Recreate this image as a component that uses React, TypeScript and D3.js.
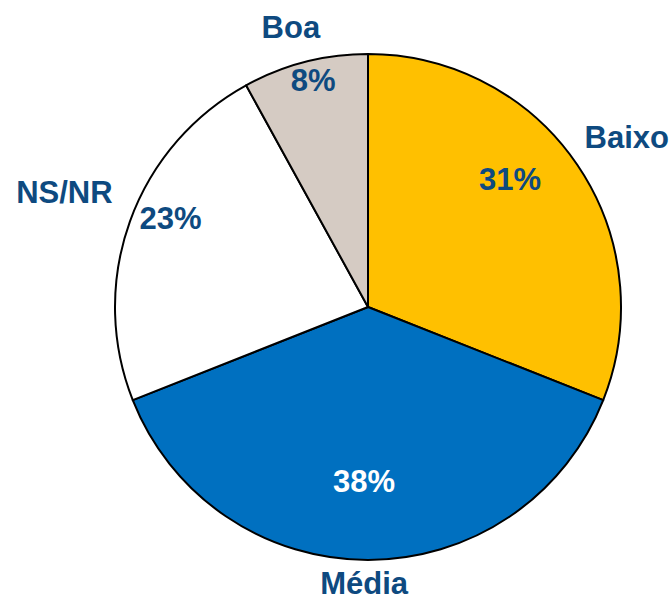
import React, { useEffect, useRef } from 'react';
import * as d3 from 'd3';

// chart data
const categories = ['Baixo', 'Média', 'NS/NR', 'Boa'];
const values = [31, 38, 23, 8];
const sliceColors = ['#FFC000', '#0070C0', '#FFFFFF', '#D5CBC3'];
const pctColors = ['#0E4A80', '#FFFFFF', '#0E4A80', '#0E4A80'];

// label placement: radius as a fraction of pie radius, angle nudge in degrees
const pctLayout = [
  { r: 0.755, da: -7.8 },
  { r: 0.688, da: 1.3 },
  { r: 0.856, da: 4.5 },
  { r: 0.923, da: 0.8 },
];
const catLayout = [
  { r: 1.224, da: 0.9 },
  { r: 1.091, da: 0.8 },
  { r: 1.283, da: 0.9 },
  { r: 1.148, da: -1.0 },
];

const App = () => {
  const svgRef = useRef<SVGSVGElement>(null);

  useEffect(() => {
    const svg = d3.select(svgRef.current);
    svg.selectAll('*').remove();

    const width = 672;
    const height = 597;
    const cx = 368;
    const cy = 307;
    const radius = 253;
    const textColor = '#0E4A80';
    const font = 'Liberation Sans, Arial, sans-serif';

    svg.attr('width', width).attr('height', height);

    const pie = d3.pie<number>().sort(null).value(d => d);
    const arcs = pie(values);
    const arc = d3.arc<d3.PieArcDatum<number>>().innerRadius(0).outerRadius(radius);

    const g = svg.append('g').attr('transform', `translate(${cx}, ${cy})`);

    g.selectAll('path')
      .data(arcs)
      .enter()
      .append('path')
      .attr('d', arc)
      .attr('fill', (d, i) => sliceColors[i])
      .attr('stroke', '#000')
      .attr('stroke-width', 2)
      .attr('stroke-linejoin', 'round');

    const polar = (d: d3.PieArcDatum<number>, r: number, da: number) => {
      const a = (d.startAngle + d.endAngle) / 2 + (da * Math.PI) / 180;
      return [Math.sin(a) * r * radius, -Math.cos(a) * r * radius];
    };

    g.selectAll('.pct')
      .data(arcs)
      .enter()
      .append('text')
      .attr('class', 'pct')
      .attr('transform', (d, i) => `translate(${polar(d, pctLayout[i].r, pctLayout[i].da)})`)
      .attr('dy', '0.36em')
      .style('text-anchor', 'middle')
      .style('font-family', font)
      .style('font-weight', 'bold')
      .style('font-size', '31px')
      .style('fill', (d, i) => pctColors[i])
      .text(d => `${d.data}%`);

    g.selectAll('.cat')
      .data(arcs)
      .enter()
      .append('text')
      .attr('class', 'cat')
      .attr('transform', (d, i) => `translate(${polar(d, catLayout[i].r, catLayout[i].da)})`)
      .attr('dy', '0.36em')
      .style('text-anchor', 'middle')
      .style('font-family', font)
      .style('font-weight', 'bold')
      .style('font-size', '31px')
      .style('fill', textColor)
      .text((d, i) => categories[i]);
  }, []);

  return (
    <svg
      ref={svgRef}
      style={{ position: 'absolute', left: 0, top: 0, background: '#fff' }}
    ></svg>
  );
};

export default App;
